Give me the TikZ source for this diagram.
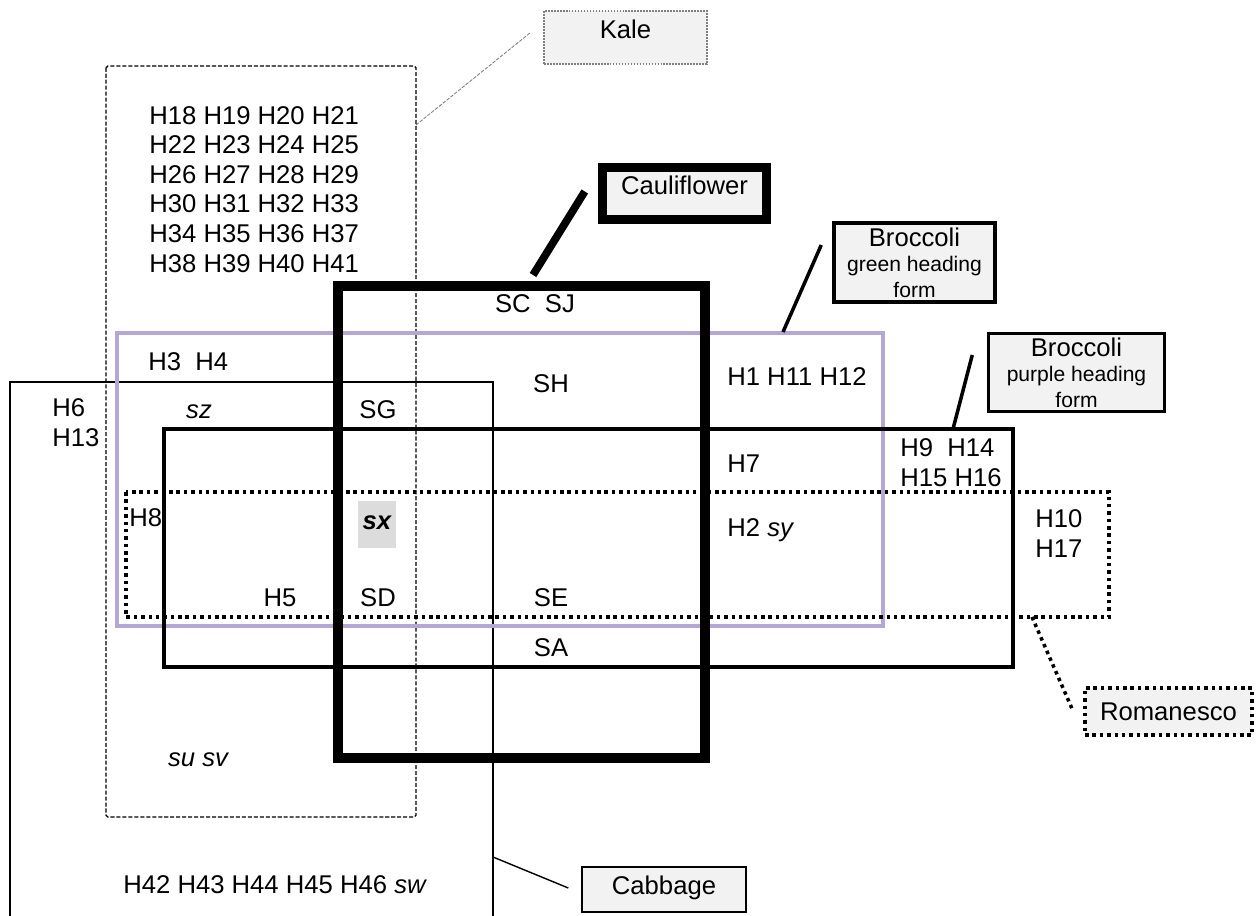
\documentclass[tikz,border=0pt]{standalone}
\usepackage{fontspec}
\setmainfont{Liberation Sans}
\usepackage{xcolor}
\usepackage{tikz}
\usetikzlibrary{calc}
\definecolor{boxgray}{HTML}{F2F2F2}
\definecolor{lavender}{HTML}{B4A7D6}
\definecolor{sxgray}{HTML}{DCDCDC}
\newcommand{\smalltag}{\fontsize{12}{14.5}\selectfont}

\begin{document}
\begin{tikzpicture}[x=0.02cm,y=-0.02cm,
  lbl/.style={font=\fontsize{14.6}{17.5}\selectfont,inner sep=0pt,text height=10.4pt,text depth=0pt},
  tag/.style={draw,fill=boxgray,font=\fontsize{14.6}{14.5}\selectfont,inner sep=0pt,align=center},
  dotline/.style={line width=2pt,dash pattern=on 2pt off 2.2pt}]
  \useasboundingbox (0,0) rectangle (1259,916);
  % regions
  \draw[line width=0.8pt] (10,916) |- (493,382) -- (493,916);
  \draw[line width=0.8pt,dash pattern=on 2.3pt off 1.1pt,rounded corners=1pt] (106,66) rectangle (416,817);
  \draw[lavender,line width=2.1pt] (117,333) rectangle (883,626);
  \draw[line width=2pt] (164,429) rectangle (1013,667);
  \draw[dotline] (126,492) rectangle (1109,617);
  \draw[line width=5.4pt] (338,286) rectangle (705,758);
  \fill[sxgray] (358,501) rectangle (396,548);
  % labels
  \foreach \r in {0,...,5}{
    \pgfmathtruncatemacro{\a}{18+4*\r}
    \pgfmathtruncatemacro{\b}{19+4*\r}
    \pgfmathtruncatemacro{\c}{20+4*\r}
    \pgfmathtruncatemacro{\d}{21+4*\r}
    \node[lbl,anchor=west] (kale\r) at (149,{115+29.6*\r}) {H\a\ H\b\ H\c\ H\d};
  }
  \node[lbl,anchor=west] (h3) at (148,361) {H3\ \ H4};
  \node[lbl,anchor=west] (h6) at (52,407) {H6};
  \node[lbl,anchor=west] (h13) at (52,437) {H13};
  \node[lbl] (sz) at (199,409) {\itshape sz};
  \node[lbl] (sg) at (378,409) {SG};
  \node[lbl] (sc) at (535,303) {SC\ \ SJ};
  \node[lbl] (sh) at (551,383) {SH};
  \node[lbl,anchor=west] (h1) at (727,376) {H1 H11 H12};
  \node[lbl,anchor=west] (h7) at (727,463) {H7};
  \node[lbl,anchor=west] (h2) at (727,527) {H2 \itshape sy};
  \node[lbl,anchor=west] (h9) at (900,447) {H9\ \ H14};
  \node[lbl,anchor=west] (h15) at (900,477) {H15 H16};
  \node[lbl,anchor=west] (h10) at (1035,518) {H10};
  \node[lbl,anchor=west] (h17) at (1035,548) {H17};
  \node[lbl,anchor=west] (h8) at (129,517) {H8};
  \node[lbl] (sx) at (377,520) {\bfseries\itshape sx};
  \node[lbl] (h5) at (280,597) {H5};
  \node[lbl] (sd) at (378,597) {SD};
  \node[lbl] (se) at (551,597) {SE};
  \node[lbl] (sa) at (551,647) {SA};
  \node[lbl] (susv) at (198,757) {\itshape su sv};
  \node[lbl,anchor=east] (h42) at (426,884) {H42 H43 H44 H45 H46 \itshape sw};
  % name tags
  \node[tag,draw=gray,line width=0.6pt,dash pattern=on 1pt off 0.7pt,minimum width=3.26cm,minimum height=1.06cm,text height=10.4pt,text depth=9.7pt] (kale) at (625.5,37.5) {Kale};
  \node[tag,line width=5.4pt,minimum width=3.28cm,minimum height=1.04cm,text height=10.4pt,text depth=9.7pt] (cauli) at (684.5,193.5) {Cauliflower};
  \node[tag,line width=2pt,minimum width=3.22cm,minimum height=1.58cm] (bgreen) at (914.5,262.5) {Broccoli\\\smalltag green heading\\\smalltag form};
  \node[tag,line width=2pt,minimum width=3.52cm,minimum height=1.56cm] (bpurple) at (1076.5,372.5) {Broccoli\\\smalltag purple heading\\\smalltag form};
  \node[tag,dotline,minimum width=3.34cm,minimum height=0.94cm] (roman) at (1168.5,711.5) {Romanesco};
  \node[tag,line width=0.8pt,minimum width=3.28cm,minimum height=0.9cm,text height=10.4pt,text depth=5.1pt] (cabbage) at (664,889.5) {Cabbage};
  % connectors
  \coordinate (kaletip) at (416,125);
  \coordinate (caulitip) at (533,275);
  \coordinate (greentip) at (783,332);
  \coordinate (purpletip) at (953,429);
  \coordinate (romtip) at (1032,617);
  \coordinate (cabtip) at (493,857);
  \draw[gray,line width=0.5pt,dash pattern=on 2pt off 0.8pt] (kaletip) -- ($(kale.west)+(-13,-5)$);
  \draw[line width=4.4pt] (caulitip) -- ($(cauli.west)+(-13,-2)$);
  \draw[line width=2pt] (greentip) -- ($(bgreen.west)+(-11,-17.5)$);
  \draw[line width=2pt] (purpletip) -- ($(bpurple.west)+(-14.5,-17.5)$);
  \draw[dotline] (romtip) -- ($(roman.west)+(-10,0)$);
  \draw[line width=0.8pt] (cabtip) -- ($(cabbage.west)+(-13,-1.5)$);
\end{tikzpicture}
\end{document}
